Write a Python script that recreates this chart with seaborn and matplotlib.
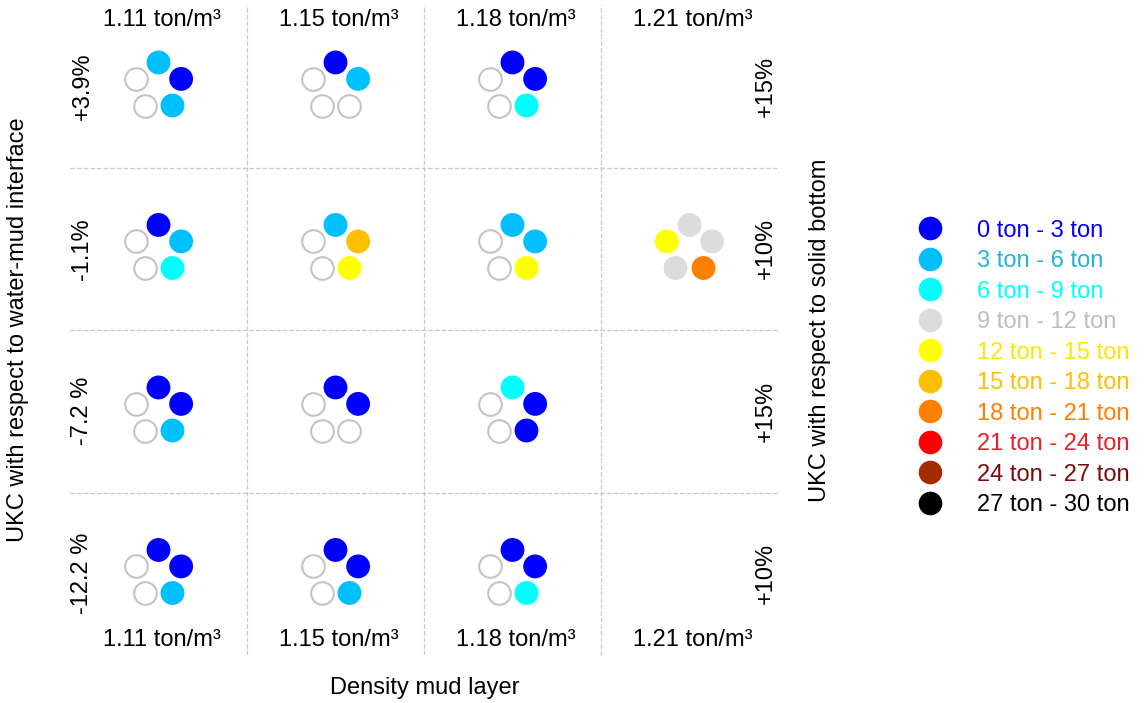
import numpy as np
import pandas as pd
import matplotlib
matplotlib.use("Agg")
import matplotlib.pyplot as plt
from matplotlib.lines import Line2D
import seaborn as sns

# columns / rows of the grid
densities = ["1.11 ton/m³", "1.15 ton/m³", "1.18 ton/m³", "1.21 ton/m³"]
ukc_mud = ["+3.9%", "-1.1%", "-7.2 %", "-12.2 %"]
ukc_bottom = ["+15%", "+10%", "+15%", "+10%"]

# weight classes
classes = ["0 ton - 3 ton", "3 ton - 6 ton", "6 ton - 9 ton", "9 ton - 12 ton",
           "12 ton - 15 ton", "15 ton - 18 ton", "18 ton - 21 ton",
           "21 ton - 24 ton", "24 ton - 27 ton", "27 ton - 30 ton"]
class_colors = ["#0000FF", "#00BFFF", "#00FFFF", "#DCDCDC", "#FFFF00",
                "#FFBF00", "#FF8000", "#FF0000", "#A52A00", "#000000"]
label_colors = ["#0000FF", "#22B4D8", "#00FFFF", "#BEBEBE", "#FFE600",
                "#FFBF00", "#FF8000", "#E8202A", "#7A0C0C", "#000000"]

# class index at each of 5 positions (top, right, bottom-right, bottom-left, left)
# None = empty position, whole cell None = nothing drawn
row_p39 = [[1, 0, 1, None, None], [0, 1, None, None, None], [0, 0, 2, None, None], None]
row_m11 = [[0, 1, 2, None, None], [1, 5, 4, None, None], [1, 1, 4, None, None], [3, 3, 6, 3, 4]]
row_m72 = [[0, 0, 1, None, None], [0, 0, None, None, None], [2, 0, 0, None, None], None]
row_m122 = [[0, 0, 1, None, None], [0, 0, 1, None, None], [0, 0, 2, None, None], None]
rows = [row_p39, row_m11, row_m72, row_m122]

W, H = 1145, 703
ax_px = (70, 5, 778, 655)  # left, top, right, bottom in pixels
col_px = (ax_px[2] - ax_px[0]) / 4
row_px = (ax_px[3] - ax_px[1]) / 4
R = 23.8  # pentagon radius in px

records = []
for r, row in enumerate(rows):
    for c, cell in enumerate(row):
        if cell is None:
            continue
        for k, cls in enumerate(cell):
            ang = np.deg2rad(72 * k)
            records.append({
                "x": c + R * np.sin(ang) / col_px,
                "y": r - R * np.cos(ang) / row_px,
                "cls": classes[cls] if cls is not None else "empty",
            })
df = pd.DataFrame(records)

sns.set_style("white")
plt.rcParams["font.family"] = ["Liberation Sans", "DejaVu Sans"]
plt.rcParams["text.color"] = "black"

fig = plt.figure(figsize=(W / 100, H / 100), dpi=100)
ax = fig.add_axes([ax_px[0] / W, 1 - ax_px[3] / H,
                   (ax_px[2] - ax_px[0]) / W, (ax_px[3] - ax_px[1]) / H])

empty = df[df["cls"] == "empty"]
filled = df[df["cls"] != "empty"]
sns.scatterplot(data=empty, x="x", y="y", color="white", edgecolor="#C4C4C4",
                linewidth=1.5, s=265, ax=ax, legend=False, zorder=3)
sns.scatterplot(data=filled, x="x", y="y", hue="cls", hue_order=classes,
                palette=dict(zip(classes, class_colors)), linewidth=0,
                s=295, ax=ax, legend=False, zorder=3)

ax.set_xlim(-0.5, 3.5)
ax.set_ylim(3.5, -0.5)
for v in [0.5, 1.5, 2.5]:
    ax.axvline(v, color="#C8C8C8", ls="--", lw=0.9, zorder=1)
    ax.axhline(v, color="#C8C8C8", ls="--", lw=0.9, zorder=1)
ax.set_xticks([])
ax.set_yticks([])
ax.set_xlabel("")
ax.set_ylabel("")
for s in ax.spines.values():
    s.set_visible(False)

fs = 17
for c, d in enumerate(densities):
    ax.text(c + 0.02, -0.41, d, ha="center", va="center", fontsize=fs)
    ax.text(c + 0.02, 3.41, d, ha="center", va="center", fontsize=fs)
for r, (lm, rb) in enumerate(zip(ukc_mud, ukc_bottom)):
    ax.text(-0.43, r, lm, ha="center", va="center", rotation=90, fontsize=fs)
    ax.text(3.43, r, rb, ha="center", va="center", rotation=90, fontsize=fs)

fig.text(18 / W, 1 - 330 / H, "UKC with respect to water-mud interface",
         rotation=90, ha="center", va="center", fontsize=fs)
fig.text(820 / W, 1 - 330 / H, "UKC with respect to solid bottom",
         rotation=90, ha="center", va="center", fontsize=fs)
fig.text(425 / W, 1 - 688 / H, "Density mud layer",
         ha="center", va="center", fontsize=fs)

handles = [Line2D([], [], marker="o", ls="", markersize=17, markerfacecolor=col,
                  markeredgewidth=0) for col in class_colors]
fig.legend(handles, classes, loc="center left", bbox_to_anchor=(918 / W, 1 - 368 / H),
           frameon=False, fontsize=fs, handlelength=1.0, handletextpad=1.5,
           labelspacing=0.36, borderpad=0, borderaxespad=0, labelcolor=label_colors)

fig.savefig("out.png", dpi=100)
